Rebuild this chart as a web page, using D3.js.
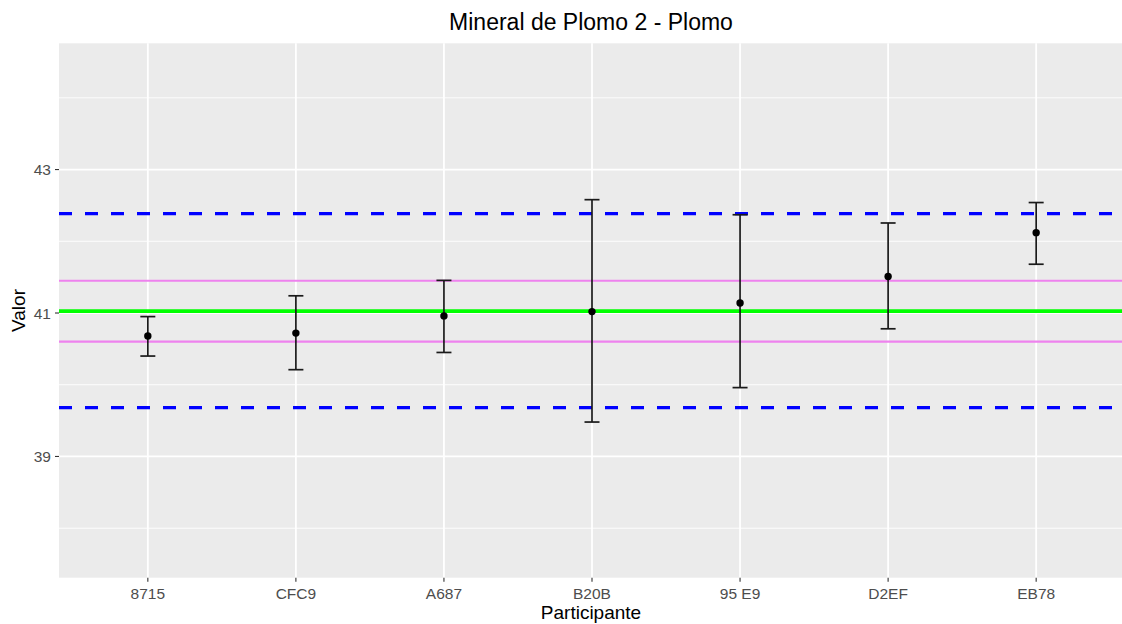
<!DOCTYPE html>
<html><head><meta charset="utf-8">
<script src="https://cdn.jsdelivr.net/npm/d3@7"></script>
<style>body{margin:0;background:#fff}text{font-family:Arial,"Liberation Sans",sans-serif}</style>
</head><body><svg id="c" width="1122" height="624"></svg>
<script>
const participants = ["8715","CFC9","A687","B20B","95 E9","D2EF","EB78"];
const values = [40.68, 40.72, 40.96, 41.02, 41.14, 41.51, 42.12];
const lower  = [40.40, 40.21, 40.45, 39.48, 39.96, 40.78, 41.68];
const upper  = [40.95, 41.24, 41.455, 42.58, 42.37, 42.255, 42.54];
const centerValue = 41.025;
const innerLimits = [40.60, 41.45];
const outerLimits = [39.68, 42.385];
const majorTicks = [39, 41, 43];
const minorTicks = [38, 40, 42, 44];

const svg = d3.select("#c");
const L = 59, R = 1125, T = 43.3, B = 577.7;
const x = d3.scalePoint().domain(participants).range([L, R]).padding(0.6);
const y = d3.scaleLinear().domain([37.31, 44.76]).range([B, T]);

svg.append("rect").attr("x", L).attr("y", T).attr("width", R - L).attr("height", B - T).attr("fill", "#EBEBEB");
const g = svg.append("g");
g.selectAll(".mn").data(minorTicks).join("line").attr("x1", L).attr("x2", R)
  .attr("y1", d => y(d)).attr("y2", d => y(d)).attr("stroke", "#fff").attr("stroke-width", 0.9);
g.selectAll(".mj").data(majorTicks).join("line").attr("x1", L).attr("x2", R)
  .attr("y1", d => y(d)).attr("y2", d => y(d)).attr("stroke", "#fff").attr("stroke-width", 1.8);
g.selectAll(".vx").data(participants).join("line").attr("y1", T).attr("y2", B)
  .attr("x1", d => x(d)).attr("x2", d => x(d)).attr("stroke", "#fff").attr("stroke-width", 1.8);

// reference lines
g.selectAll(".out").data(outerLimits).join("line").attr("x1", L).attr("x2", R)
  .attr("y1", d => y(d)).attr("y2", d => y(d)).attr("stroke", "#0000FF").attr("stroke-width", 3.2)
  .attr("stroke-dasharray", "13,13");
g.selectAll(".inn").data(innerLimits).join("line").attr("x1", L).attr("x2", R)
  .attr("y1", d => y(d)).attr("y2", d => y(d)).attr("stroke", "#EE82EE").attr("stroke-width", 2.2);
g.append("line").attr("x1", L).attr("x2", R).attr("y1", y(centerValue)).attr("y2", y(centerValue))
  .attr("stroke", "#00FF00").attr("stroke-width", 3.8);

// error bars
const data = participants.map((p, i) => ({p, v: values[i], lo: lower[i], hi: upper[i]}));
const eb = g.selectAll(".eb").data(data).join("g");
eb.append("line").attr("x1", d => x(d.p)).attr("x2", d => x(d.p)).attr("y1", d => y(d.lo)).attr("y2", d => y(d.hi))
  .attr("stroke", "#1a1a1a").attr("stroke-width", 1.7);
eb.append("line").attr("x1", d => x(d.p) - 7.5).attr("x2", d => x(d.p) + 7.5).attr("y1", d => y(d.lo)).attr("y2", d => y(d.lo))
  .attr("stroke", "#1a1a1a").attr("stroke-width", 1.7);
eb.append("line").attr("x1", d => x(d.p) - 7.5).attr("x2", d => x(d.p) + 7.5).attr("y1", d => y(d.hi)).attr("y2", d => y(d.hi))
  .attr("stroke", "#1a1a1a").attr("stroke-width", 1.7);
eb.append("circle").attr("cx", d => x(d.p)).attr("cy", d => y(d.v)).attr("r", 3.7).attr("fill", "#000");

// axes
const ya = svg.append("g");
ya.selectAll("line").data(majorTicks).join("line").attr("x1", L - 4).attr("x2", L)
  .attr("y1", d => y(d)).attr("y2", d => y(d)).attr("stroke", "#333").attr("stroke-width", 1.1);
ya.selectAll("text").data(majorTicks).join("text").attr("x", L - 8).attr("y", d => y(d)).attr("dy", "0.36em")
  .attr("text-anchor", "end").attr("font-size", 15.5).attr("fill", "#4D4D4D").text(d => d);
const xa = svg.append("g");
xa.selectAll("line").data(participants).join("line").attr("y1", B).attr("y2", B + 4)
  .attr("x1", d => x(d)).attr("x2", d => x(d)).attr("stroke", "#333").attr("stroke-width", 1.1);
xa.selectAll("text").data(participants).join("text").attr("x", d => x(d)).attr("y", 598.5)
  .attr("text-anchor", "middle").attr("font-size", 15.5).attr("fill", "#4D4D4D").text(d => d);

svg.append("text").attr("x", 591).attr("y", 30).attr("text-anchor", "middle").attr("font-size", 23).attr("fill", "#000")
  .text("Mineral de Plomo 2 - Plomo");
svg.append("text").attr("x", 591).attr("y", 619).attr("text-anchor", "middle").attr("font-size", 19).attr("fill", "#000")
  .text("Participante");
svg.append("text").attr("transform", `translate(25,${(T + B) / 2}) rotate(-90)`).attr("text-anchor", "middle")
  .attr("font-size", 19).attr("fill", "#000").text("Valor");
</script></body></html>
